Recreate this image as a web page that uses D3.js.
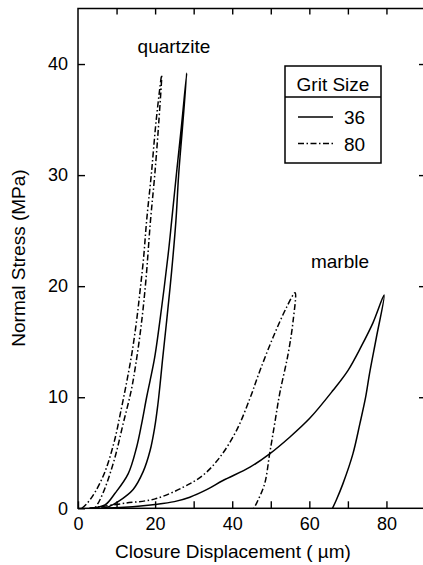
<!DOCTYPE html>
<html>
<head>
<meta charset="utf-8">
<script src="https://cdn.jsdelivr.net/npm/d3@7"></script>
<style>
  body { margin: 0; background: #fff; }
  svg { display: block; font-family: "Liberation Sans", Arial, sans-serif; }
  .tick text { font-size: 18px; fill: #000; }
  .tick line { stroke: #000; stroke-width: 1.4; }
</style>
</head>
<body>
<script>
// Chart size
const width = 423, height = 565;
const margin = {left: 78, top: 8.5, right: 425, bottom: 508.3};

// Data: [closure displacement (um), normal stress (MPa)]
// each path goes up along loading and back down along unloading
const quartzite36 = [[3,0],[7,0.3],[9.6,1.35],[13,3.1],[15.2,5.5],[16.5,7.6],[17.8,10],[18.7,11.5],[19.9,13.6],
  [21.7,18.1],[23.4,22.9],[24.3,25.9],[25.5,30],[26.8,34.3],[28.2,39.2],
  [27.1,34.3],[26.1,30],[25.4,25.9],[24.3,21.4],[23,16.9],[21.9,13.3],[21.3,11.2],[20.7,9.3],[19.9,7.3],
  [18.7,5.2],[16.9,3.3],[14.3,1.7],[10.4,0.6],[8,0.15],[6,0]];
const quartzite80 = [[1,0],[2.5,0.5],[4.5,1.5],[7,3.3],[9.4,6],[11.2,8.9],[12.7,11.5],[14,14],[15.2,16.9],
  [16.1,19.6],[17,22.5],[17.8,25.9],[19,30],[20.3,35],[21.7,39],
  [21,35],[19.9,30],[18.8,25.9],[17.6,20.5],[16.4,16.5],[15,13],[13.8,10.6],[11.7,7.6],[9.6,4.6],
  [7.2,2],[5.6,0.7],[4.4,0]];
const marble36 = [[6,0],[12,0.1],[20,0.35],[25,0.6],[29,1.0],[33.5,1.7],[37.6,2.5],[44.6,3.7],[49.7,4.9],[54.9,6.4],
  [60.1,8.1],[66.1,10.6],[70,12.4],[73.5,14.6],[76.5,16.7],[79.4,19.2],
  [77.4,15.4],[75.6,12.1],[74.6,10],[73.1,7.6],[71.3,4.9],[68.7,2.2],[67,0.75],[66,0]];
const marble80 = [[3,0],[6,0.15],[12,0.45],[20,0.85],[27.3,1.9],[32.5,3.0],[36.8,4.6],[41.1,7.0],[44.6,9.9],
  [47.2,12.4],[50.6,15.4],[54.1,18.1],[56.3,19.4],
  [55.8,16.9],[54.5,13.9],[52.3,10.3],[51,7.6],[49.7,4.9],[48.4,2.2],[46.3,0.45],[45.6,0]];

const series = [
  {name: "quartzite 36", grit: "36", values: quartzite36},
  {name: "quartzite 80", grit: "80", values: quartzite80},
  {name: "marble 36", grit: "36", values: marble36},
  {name: "marble 80", grit: "80", values: marble80}
];
const grits = ["36", "80"];
const xTicks = d3.range(0, 91, 10);
const yTicks = [0, 10, 20, 30, 40];

const dash = {"36": null, "80": "6,2.5,1.5,2.5"};

const x = d3.scaleLinear().domain([0, 90]).range([margin.left, margin.right]);
const y = d3.scaleLinear().domain([0, 45]).range([margin.bottom, margin.top]);

const svg = d3.select("body").append("svg")
    .attr("width", width)
    .attr("height", height);

// bottom axis, ticks pointing in
svg.append("g")
    .attr("transform", `translate(0,${y(0)})`)
    .call(d3.axisBottom(x).tickValues(xTicks).tickSizeInner(-7).tickSizeOuter(0).tickPadding(9)
      .tickFormat(d => d % 20 === 0 ? d : ""))
    .call(g => g.select(".domain").remove());

// top axis
svg.append("g")
    .attr("transform", `translate(0,${margin.top})`)
    .call(d3.axisTop(x).tickValues(xTicks.slice(1)).tickSizeInner(-6).tickSizeOuter(0).tickFormat(""))
    .call(g => g.select(".domain").remove());

// left axis
svg.append("g")
    .attr("transform", `translate(${x(0)},0)`)
    .call(d3.axisLeft(y).tickValues(yTicks).tickSizeInner(-7).tickSizeOuter(0).tickPadding(10))
    .call(g => g.select(".domain").remove());

// right axis
svg.append("g")
    .attr("transform", `translate(${margin.right},0)`)
    .call(d3.axisRight(y).tickValues(yTicks.slice(1)).tickSizeInner(-6).tickSizeOuter(0).tickFormat(""))
    .call(g => g.select(".domain").remove());

// frame
svg.append("rect")
    .attr("x", margin.left)
    .attr("y", margin.top)
    .attr("width", margin.right - margin.left)
    .attr("height", margin.bottom - margin.top)
    .attr("fill", "none")
    .attr("stroke", "#000")
    .attr("stroke-width", 1.5);

const line = d3.line()
    .x(d => x(d[0]))
    .y(d => y(d[1]))
    .curve(d3.curveCatmullRom.alpha(0.5));

svg.append("g").selectAll("path")
    .data(series)
    .enter().append("path")
    .attr("d", d => line(d.values))
    .attr("fill", "none")
    .attr("stroke", "#000")
    .attr("stroke-width", 1.5)
    .attr("stroke-dasharray", d => dash[d.grit]);

// axis titles
svg.append("text")
    .attr("x", 233)
    .attr("y", 558)
    .attr("text-anchor", "middle")
    .style("font-size", "19px")
    .text("Closure Displacement ( \u00b5m)");

svg.append("text")
    .attr("transform", "translate(25,258) rotate(-90)")
    .attr("text-anchor", "middle")
    .style("font-size", "19px")
    .text("Normal Stress (MPa)");

// curve labels
svg.append("text")
    .attr("x", 174).attr("y", 53)
    .attr("text-anchor", "middle")
    .style("font-size", "19px")
    .text("quartzite");
svg.append("text")
    .attr("x", 340).attr("y", 268)
    .attr("text-anchor", "middle")
    .style("font-size", "19px")
    .text("marble");

// legend
const legend = svg.append("g");
legend.append("rect")
    .attr("x", 285).attr("y", 66)
    .attr("width", 96).attr("height", 97)
    .attr("fill", "#fff").attr("stroke", "#000").attr("stroke-width", 1.5);
legend.append("line")
    .attr("x1", 285).attr("x2", 381)
    .attr("y1", 97).attr("y2", 97)
    .attr("stroke", "#000").attr("stroke-width", 1.5);
legend.append("text")
    .attr("x", 333).attr("y", 91)
    .attr("text-anchor", "middle")
    .style("font-size", "19px")
    .text("Grit Size");

const item = legend.selectAll(".item")
    .data(grits)
    .enter().append("g")
    .attr("class", "item")
    .attr("transform", (d, i) => `translate(0,${117 + i * 26.5})`);
item.append("line")
    .attr("x1", 298).attr("x2", 333)
    .attr("stroke", "#000").attr("stroke-width", 1.5)
    .attr("stroke-dasharray", d => dash[d]);
item.append("text")
    .attr("x", 344).attr("y", 7)
    .style("font-size", "19px")
    .text(d => d);
</script>
</body>
</html>
